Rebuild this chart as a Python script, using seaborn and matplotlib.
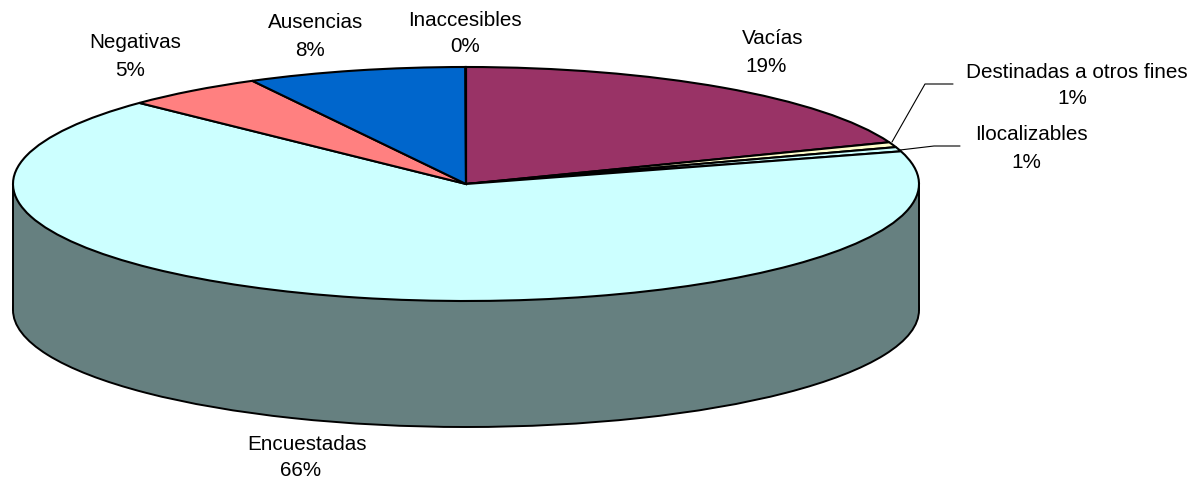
import matplotlib
matplotlib.use("Agg")
import matplotlib.pyplot as plt
import seaborn as sns

sns.set_theme(style="white")
plt.rcParams['font.family'] = ['Liberation Sans', 'DejaVu Sans']

categories = ["Vacías", "Destinadas a otros fines", "Ilocalizables", "Encuestadas",
              "Negativas", "Ausencias", "Inaccesibles"]
values = [19.2, 0.7, 0.6, 66.7, 5.0, 7.8, 0.02]
pct_labels = ["19%", "1%", "1%", "66%", "5%", "8%", "0%"]
top_colors = ["#993366", "#FFFFCC", "#CCFFFF", "#CCFFFF", "#FF8080", "#0066CC", "#660066"]
wall_color = "#668080"

W, H = 1197, 483
fig = plt.figure(figsize=(W / 100, H / 100), dpi=100, facecolor="white")
ax = fig.add_axes([0, 0, 1, 1])

# pixel geometry of the ellipse: unit pie stretched through the axis limits
cx, cy, rx, ry, depth_px = 466, 184, 453, 117, 126
depth = depth_px / ry


def px(x, y):
    return (x - cx) / rx, (cy - y) / ry


# wall: lower ellipse plus connecting band with vertical edges
ax.pie([1], colors=[wall_color], radius=1, center=(0, -depth),
       wedgeprops=dict(edgecolor="black", linewidth=1.4, zorder=1))
ax.fill_between([-1, 1], [0, 0], [-depth, -depth], color=wall_color, linewidth=0, zorder=2)
ax.plot([-1, -1], [0, -depth], color="black", lw=1.4, zorder=2.5)
ax.plot([1, 1], [0, -depth], color="black", lw=1.4, zorder=2.5)

wedges, _ = ax.pie(values, colors=top_colors, startangle=90, counterclock=False,
                   radius=1, center=(0, 0),
                   wedgeprops=dict(edgecolor="black", linewidth=1.5, zorder=3))

ax.set_aspect("auto")
ax.set_frame_on(False)
ax.set_xlim(px(0, 0)[0], px(W, 0)[0])
ax.set_ylim(px(0, H)[1], px(0, 0)[1])

# leader lines
for pts in ([(892, 142), (925, 84), (953, 84)], [(900, 150), (934, 146), (960, 146)]):
    xy = [px(*p) for p in pts]
    ax.plot([p[0] for p in xy], [p[1] for p in xy], color="black", lw=0.8, zorder=4)

# label anchors: (name centre, percent centre) in pixels
anchors = [((773, 39), (766, 67)), ((1077, 72), (1072, 98)), ((1031, 135), (1026, 162)),
           ((307, 445), (301, 471)), ((135, 43), (130, 70)), ((316, 23), (310, 51)),
           ((465, 21), (465, 46))]
for name, pct, (a, b) in zip(categories, pct_labels, anchors):
    ax.text(*px(*a), name, ha="center", va="center", fontsize=14.9, color="black")
    ax.text(*px(*b), pct, ha="center", va="center", fontsize=14.9, color="black")

fig.savefig("out.png", dpi=100)
